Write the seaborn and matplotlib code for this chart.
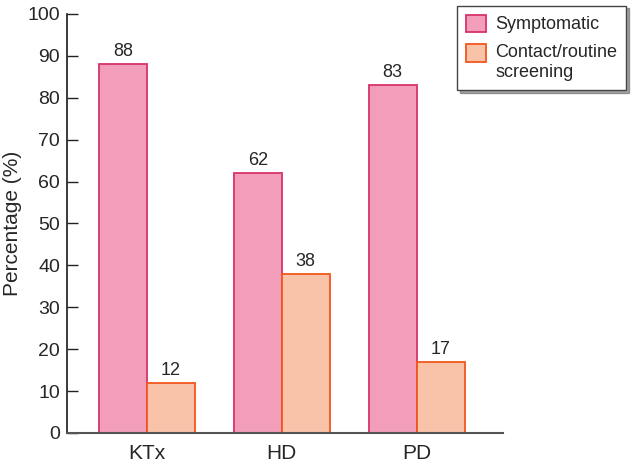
import pandas as pd
import seaborn as sns
import matplotlib.pyplot as plt
from matplotlib.legend_handler import HandlerPatch

groups = ['KTx', 'HD', 'PD']
symptomatic = [88, 62, 83]
screening = [12, 38, 17]
series = ['Symptomatic', 'Contact/routine\nscreening']

fills = ['#F29DBA', '#F8C3A8']
edges = ['#D7336A', '#F2571C']

sns.set_theme(style='ticks')
plt.rcParams['font.family'] = ['Liberation Sans', 'DejaVu Sans']

df = pd.DataFrame({
    'group': groups * 2,
    'series': [series[0]] * 3 + [series[1]] * 3,
    'value': symptomatic + screening,
})

fig = plt.figure(figsize=(6.34, 4.62), dpi=100)
ax = fig.add_axes([0.1057, 0.0628, 0.687, 0.907])

sns.barplot(data=df, x='group', y='value', hue='series', order=groups,
            hue_order=series, palette=fills, width=0.71, gap=0,
            saturation=1, ax=ax, legend=False)

for cont, ec in zip(ax.containers, edges):
    for bar in cont:
        bar.set_edgecolor(ec)
        bar.set_linewidth(1.3)
    ax.bar_label(cont, fmt='%d', padding=3, fontsize=13)

ax.set_xlim(-0.593, 2.637)
ax.set_ylim(0, 100)
ax.set_yticks(range(0, 101, 10))
ax.set_xlabel('')
ax.set_ylabel('Percentage (%)', fontsize=15, labelpad=4)
ax.tick_params(axis='y', labelsize=14, direction='in', length=8, width=1,
               color='#222222', pad=5)
ax.tick_params(axis='x', labelsize=15, length=0, pad=8)
sns.despine(ax=ax)
ax.spines['left'].set_color('#222222')
ax.spines['bottom'].set_color('#555555')
ax.spines['bottom'].set_linewidth(1.5)


def top_box(legend, orig_handle, xdescent, ydescent, width, height, fontsize):
    # put the box next to the first line of a two-line label
    return plt.Rectangle((-xdescent, -ydescent + 0.55 * fontsize), width, height)


handles = [plt.Rectangle((0, 0), 1, 1, facecolor=f, edgecolor=e, linewidth=1.3)
           for f, e in zip(fills, edges)]
fig.legend(handles, series, loc='upper right', bbox_to_anchor=(0.988, 0.988),
           borderaxespad=0, fontsize=13, frameon=True, fancybox=False,
           shadow=True, edgecolor='#444444', handlelength=1.1,
           handleheight=1.1, borderpad=0.5, labelspacing=0.6,
           handletextpad=0.5,
           handler_map={handles[1]: HandlerPatch(patch_func=top_box)})

fig.savefig('out.png', dpi=100)
